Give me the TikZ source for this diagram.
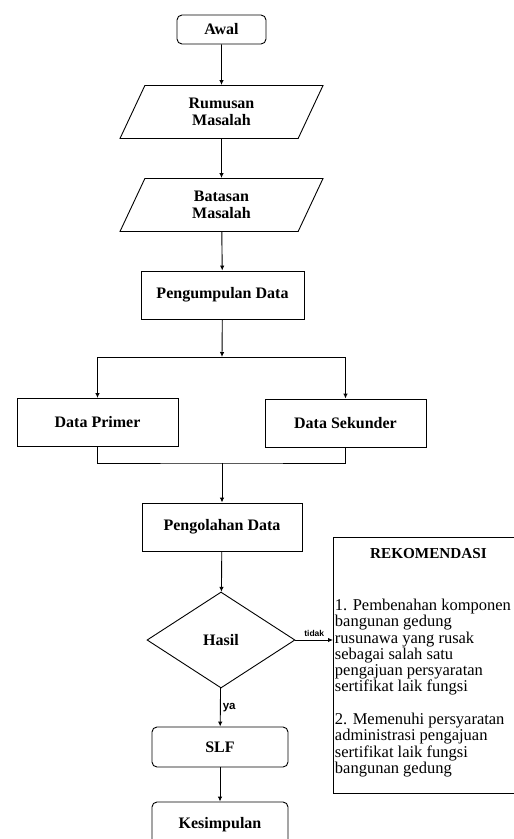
\documentclass[tikz,border=0pt]{standalone}
\usepackage{fontspec}
\setmainfont{Liberation Serif}
\newfontfamily\labelsans{Liberation Sans}
\usetikzlibrary{shapes.geometric,arrows.meta}

\begin{document}
\begin{tikzpicture}[x=1pt, y=-1pt, line width=0.9pt,
    lbl/.style={font=\fontsize{16}{17}\selectfont\bfseries},
    proses/.style={draw, lbl, minimum width=162pt, minimum height=48pt},
    terminal/.style={draw, lbl, rounded corners=5pt, minimum width=136pt,
      minimum height=40pt},
    masukan/.style={trapezium, draw, lbl, align=center, trapezium left angle=50,
      trapezium right angle=130, trapezium stretches body,
      minimum width=203pt, minimum height=53pt, inner sep=1pt},
    flow/.style={-{Latex[length=5pt, width=4.5pt]}}]
    \useasboundingbox (0,0) rectangle (514,839);
    \node [terminal, minimum width=89pt, minimum height=29pt] (awal) at
    (221.5,29.5) {Awal}; \node [masukan] (rumusan) at (221.5,112)
    {Rumusan\\Masalah}; \node [masukan] (batasan) at (221.5,205)
    {Batasan\\Masalah}; \node [proses, minimum width=163pt] (kumpul) at
    (222.5,295) {Pengumpulan Data};
    \coordinate (bagi) at (222,357); \coordinate (gabung) at (222,463);
    \node [proses, minimum width=161pt] (primer) at (97.5,422.5)
    {Data Primer}; \node [proses, minimum width=161pt] (sekunder) at
    (345.5,423) {Data Sekunder}; \node [proses, minimum width=160pt]
    (olah) at (222,527) {Pengolahan Data};
    \node [diamond, draw, lbl, minimum width=148pt, minimum height=96pt,
    inner sep=0pt] (hasil) at (221,640) {Hasil};
    \node [terminal] (slf) at (220,747) {SLF}; \node [terminal,
    minimum height=46pt] (simpul) at (220,825) {Kesimpulan};
    \node [draw, anchor=north west, minimum width=190pt,
    minimum height=256pt] (rekom) at (333,537) {}; \node
    [font=\fontsize{15.2}{16}\selectfont\bfseries] (rekjudul) at (428.5,554)
    {REKOMENDASI}; \node [anchor=north west, align=left, inner sep=0pt,
    font=\fontsize{16.5}{16.3}\selectfont] (rekisi) at (334.5,598.5)
    {1. Pembenahan komponen\\bangunan gedung\\rusunawa yang rusak\\sebagai
    salah satu\\pengajuan persyaratan\\sertifikat laik fungsi\\[16.3pt]2.
    Memenuhi persyaratan\\administrasi pengajuan\\sertifikat laik
    fungsi\\bangunan gedung};
    \draw [flow] (awal) -- (rumusan); \draw [flow] (rumusan) --
    (batasan); \draw [flow] (batasan) -- (kumpul); \draw [flow] (kumpul)
    -- (bagi); \draw [flow] (bagi) -| (primer); \draw [flow] (bagi) -|
    (sekunder); \draw (primer) |- (gabung) -| (sekunder); \draw [flow]
    (gabung) -- (olah); \draw [flow] (olah) -- (hasil);
    \draw [flow] (hasil.east) -- node [above, inner sep=3pt,
    font=\labelsans\fontsize{8.5}{9}\selectfont\bfseries] {tidak}
    (hasil.east -| rekom.west); \draw [flow] (hasil) -- node [right,
    inner sep=2pt, font=\labelsans\fontsize{11.5}{12}\selectfont\bfseries]
    {ya} (slf); \draw [flow] (slf) -- (simpul);
  \end{tikzpicture}
\end{document}
